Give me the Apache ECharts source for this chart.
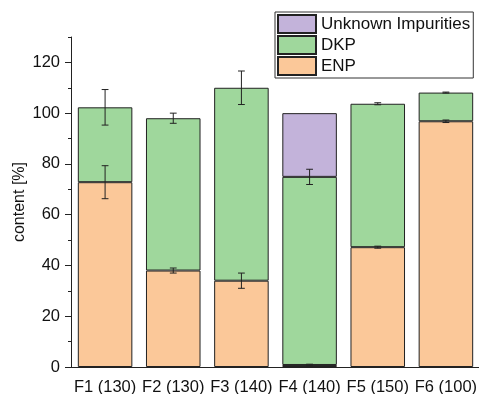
<!DOCTYPE html>
<html>
<head>
<meta charset="utf-8">
<script src="https://cdn.jsdelivr.net/npm/echarts@6/dist/echarts.min.js"></script>
<style>html,body{margin:0;padding:0;background:#fff}#c{width:479px;height:394px}</style>
</head>
<body>
<div id="c"></div>
<script>
var categories = ['F1 (130)', 'F2 (130)', 'F3 (140)', 'F4 (140)', 'F5 (150)', 'F6 (100)'];
var enp = [72.8, 38.0, 34.0, 0.8, 47.2, 96.8];
var dkp = [29.5, 60.0, 76.0, 74.1, 56.5, 11.3];
var impurities = [null, null, null, 25.1, null, null];
var enpErr = [6.5, 1.0, 3.0, 0.3, 0.4, 0.5];
var dkpErr = [7.0, 2.0, 6.6, 3.0, 0.4, 0.2];
var yMajorTicks = [0, 20, 40, 60, 80, 100, 120];
var yMinorTicks = [10, 30, 50, 70, 90, 110, 130];

var FONT = "'Liberation Sans', Arial, sans-serif";
var enpErrData = [], dkpErrData = [];
for (var i = 0; i < categories.length; i++) {
  enpErrData.push([i, enp[i] - enpErr[i], enp[i] + enpErr[i]]);
  var stackTop = enp[i] + dkp[i];
  dkpErrData.push([i, stackTop - dkpErr[i], stackTop + dkpErr[i]]);
}

function renderErr(params, api) {
  var x = api.value(0);
  var lo = api.coord([x, api.value(1)]);
  var hi = api.coord([x, api.value(2)]);
  var w = 3.4;
  var st = {stroke: '#222', lineWidth: 1, fill: null};
  return {
    type: 'group',
    children: [
      {type: 'line', shape: {x1: lo[0], y1: lo[1], x2: hi[0], y2: hi[1]}, style: st},
      {type: 'line', shape: {x1: lo[0] - w, y1: lo[1], x2: lo[0] + w, y2: lo[1]}, style: st},
      {type: 'line', shape: {x1: hi[0] - w, y1: hi[1], x2: hi[0] + w, y2: hi[1]}, style: st}
    ]
  };
}

var chart = echarts.init(document.getElementById('c'));
var border = {borderColor: '#222', borderWidth: 1};
chart.setOption({
  animation: false,
  textStyle: {fontFamily: FONT},
  grid: {left: 71, right: -1, top: 37, bottom: 27, containLabel: false, outerBoundsMode: 'none'},
  legend: {
    orient: 'vertical', left: 275, top: 12,
    data: ['Unknown Impurities', 'DKP', 'ENP'],
    icon: 'rect', itemWidth: 38, itemHeight: 18, itemGap: 1,
    padding: [2, 3, 2, 2],
    borderColor: '#333', borderWidth: 1,
    textStyle: {fontSize: 17, color: '#111', fontFamily: FONT}
  },
  xAxis: [{
    type: 'category', data: categories,
    axisLine: {lineStyle: {color: '#222', width: 1}},
    axisTick: {alignWithLabel: true, length: 6, lineStyle: {color: '#222'}},
    axisLabel: {fontSize: 16.5, color: '#111', margin: 12, interval: 0, fontFamily: FONT}
  }, {
    type: 'category', data: categories, position: 'bottom',
    axisLine: {show: false},
    axisTick: {alignWithLabel: false, length: 3, lineStyle: {color: '#222'}},
    axisLabel: {show: false}
  }],
  yAxis: [{
    type: 'value', min: 0, max: 130, interval: 10,
    name: 'content [%]', nameLocation: 'middle', nameGap: 43, nameMoveOverlap: false,
    nameTextStyle: {fontSize: 16, color: '#111', fontFamily: FONT},
    splitLine: {show: false},
    axisLine: {show: true, lineStyle: {color: '#222', width: 1}},
    axisTick: {show: true, length: 6, customValues: yMajorTicks, lineStyle: {color: '#222'}},
    axisLabel: {fontSize: 16.5, color: '#111', margin: 11, customValues: yMajorTicks, fontFamily: FONT}
  }, {
    type: 'value', min: 0, max: 130, interval: 10, position: 'left',
    splitLine: {show: false},
    axisLine: {show: false},
    axisTick: {show: true, length: 3, customValues: yMinorTicks, lineStyle: {color: '#222'}},
    axisLabel: {show: false}
  }],
  series: [{
    name: 'ENP', type: 'bar', stack: 'a', barWidth: '80%', data: enp,
    itemStyle: Object.assign({color: '#FBC899'}, border)
  }, {
    name: 'DKP', type: 'bar', stack: 'a', barWidth: '80%', data: dkp,
    itemStyle: Object.assign({color: '#9FD79C'}, border)
  }, {
    name: 'Unknown Impurities', type: 'bar', stack: 'a', barWidth: '80%', data: impurities,
    itemStyle: Object.assign({color: '#C3B3DA'}, border)
  }, {
    name: 'enpErr', type: 'custom', z: 10, silent: true, clip: false,
    data: enpErrData,
    encode: {x: 0, y: [1, 2]},
    renderItem: renderErr
  }, {
    name: 'dkpErr', type: 'custom', z: 10, silent: true, clip: false,
    data: dkpErrData,
    encode: {x: 0, y: [1, 2]},
    renderItem: renderErr
  }]
});
</script>
</body>
</html>
